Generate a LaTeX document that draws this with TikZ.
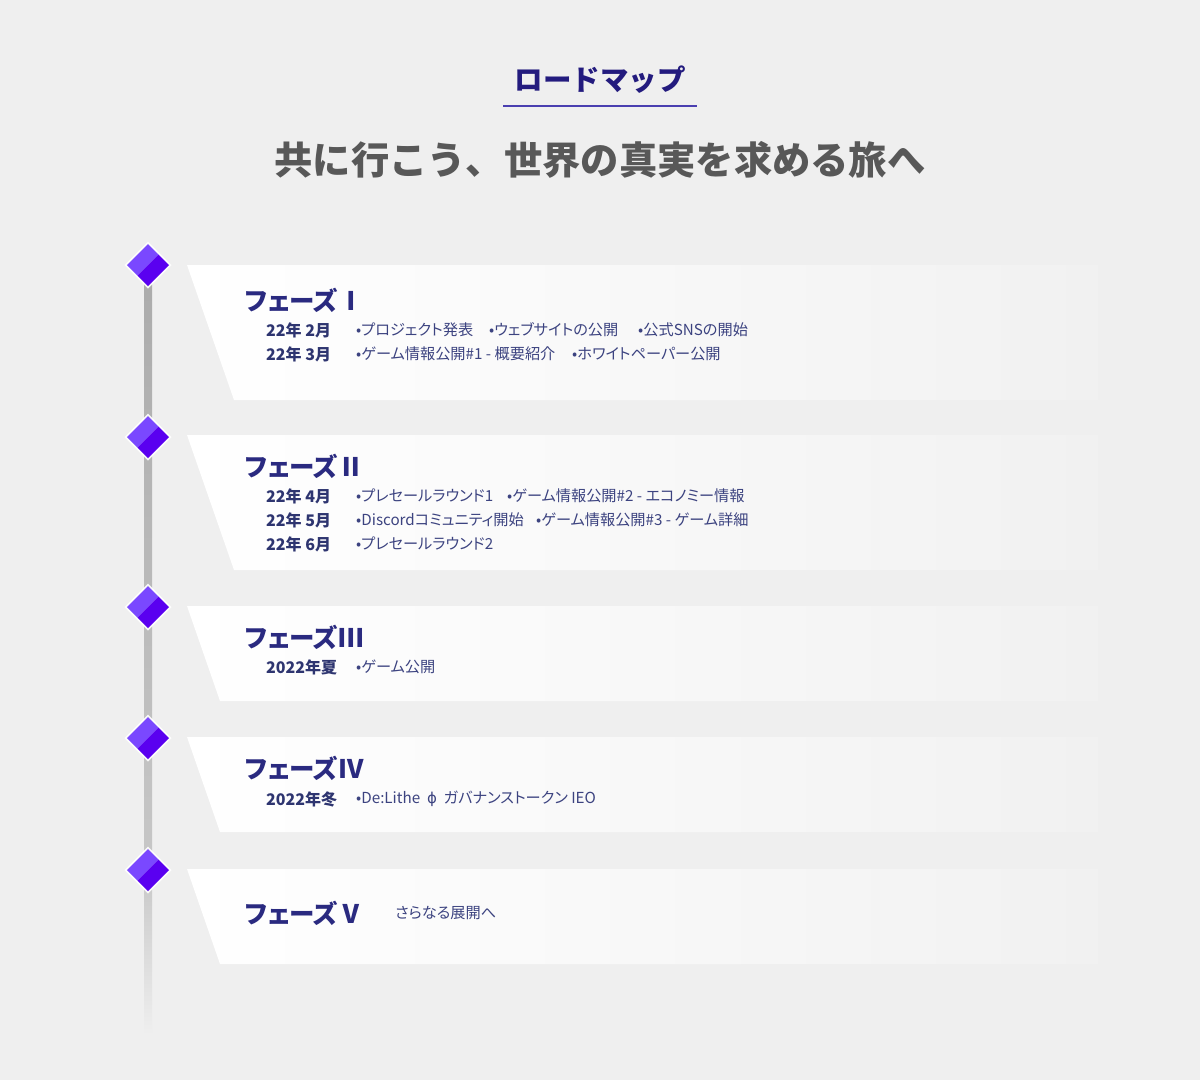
\documentclass[tikz,border=0pt]{standalone}
\usepackage{fontspec}
\setmainfont{Noto Sans CJK JP}
\newfontfamily\pf{Noto Sans CJK JP}[RawFeature=+palt]
\newfontfamily\dv{DejaVu Sans}
\definecolor{bg}{HTML}{EFEFEF}
\definecolor{navy}{HTML}{231B7E}
\definecolor{uline}{HTML}{4A3FB0}
\definecolor{subgray}{HTML}{585858}
\definecolor{phasec}{HTML}{2A2A80}
\definecolor{datec}{HTML}{2E3570}
\definecolor{itemc}{HTML}{3C4380}
\definecolor{cardR}{HTML}{F1F1F1}
\definecolor{gemL}{HTML}{7A48FF}
\definecolor{gemD}{HTML}{5A00F0}
\tikzset{
  card/.style={shading=axis,left color=white,right color=cardR},
  phasetitle/.style={anchor=west,inner sep=0,font=\pf\bfseries\fontsize{25.5}{26}\selectfont,text=phasec},
  datetext/.style={anchor=west,inner sep=0,font=\pf\bfseries\fontsize{16}{16}\selectfont,text=datec},
  itemtext/.style={anchor=west,inner sep=0,font=\pf\fontsize{15.2}{15}\selectfont,text=itemc},
}
\newcommand\gem[3]{%
  \begin{scope}[shift={(#2,#3)}]
    \coordinate (#1) at (0,0);
    \fill[white,opacity=0.9] (-23.5,0) -- (0,-23.5) -- (23.5,0) -- (0,23.5) -- cycle;
    \fill[gemL] (-21,0) -- (0,-21) -- (10.5,-10.5) -- (-10.5,10.5) -- cycle;
    \fill[gemD] (10.5,-10.5) -- (21,0) -- (0,21) -- (-10.5,10.5) -- cycle;
  \end{scope}}
\newcommand\cardshape[3]{% top, bottom, bottom-left x
  \path[card] (187,#1) -- (1098,#1) -- (1098,#2) -- (#3,#2) -- cycle;}
\begin{document}
\begin{tikzpicture}[x=1pt,y=-1pt]
\useasboundingbox (0,0) rectangle (1200,1080);
\fill[bg] (0,0) rectangle (1200,1080);

% header
\node[font=\bfseries\fontsize{28.5}{28}\selectfont,text=navy,inner sep=0] (title) at (600,80) {ロードマップ};
\coordinate (ulA) at (503,106);
\coordinate (ulB) at (697,106);
\draw[uline,line width=1.8pt] (ulA) -- (ulB);
\node[font=\bfseries\fontsize{38.3}{38}\selectfont,text=subgray,inner sep=0] (subtitle) at (600,160) {共に行こう、世界の真実を求める旅へ};

% cards
\cardshape{265}{400}{234}
\cardshape{435}{570}{234}
\cardshape{606}{701}{220}
\cardshape{737}{832}{220}
\cardshape{869}{964}{220}

% timeline
\shade[top color=black!33,bottom color=black!22] (144,265) rectangle (152,870);
\shade[top color=black!22,bottom color=bg] (144,870) rectangle (152,1035);

\gem{g1}{148}{265}
\gem{g2}{148}{437}
\gem{g3}{148}{607}
\gem{g4}{148}{738}
\gem{g5}{148}{870}

% Phase I
\node[phasetitle] (p1) at (245,300) {フェーズⅠ};
\node[datetext] (d11) at (266,330) {22年 2月};
\node[itemtext] (i111) at (356,330) {•プロジェクト発表};
\node[itemtext] (i112) at (489,330) {•ウェブサイトの公開};
\node[itemtext] (i113) at (638,330) {•公式SNSの開始};
\node[datetext] (d12) at (266,354) {22年 3月};
\node[itemtext] (i121) at (356,354) {•ゲーム情報公開\#1 - 概要紹介};
\node[itemtext] (i122) at (572,354) {•ホワイトペーパー公開};

% Phase II
\node[phasetitle] (p2) at (245,466) {フェーズⅡ};
\node[datetext] (d21) at (266,496) {22年 4月};
\node[itemtext] (i211) at (356,496) {•プレセールラウンド1};
\node[itemtext] (i212) at (507,496) {•ゲーム情報公開\#2 - エコノミー情報};
\node[datetext] (d22) at (266,520) {22年 5月};
\node[itemtext] (i221) at (356,520) {•Discordコミュニティ開始};
\node[itemtext] (i222) at (536,520) {•ゲーム情報公開\#3 - ゲーム詳細};
\node[datetext] (d23) at (266,544) {22年 6月};
\node[itemtext] (i231) at (356,544) {•プレセールラウンド2};

% Phase III
\node[phasetitle] (p3) at (245,637) {フェーズⅢ};
\node[datetext] (d31) at (266,667) {2022年夏};
\node[itemtext] (i311) at (356,667) {•ゲーム公開};

% Phase IV
\node[phasetitle] (p4) at (245,768) {フェーズⅣ};
\node[datetext] (d41) at (266,799) {2022年冬};
\node[itemtext] (i411) at (356,799) {•De:Lithe\ \ {\dv\fontsize{15}{15}\selectfont ϕ}\ \ ガバナンストークン IEO};

% Phase V
\node[phasetitle] (p5) at (245,913) {フェーズⅤ};
\node[itemtext] (i511) at (395,913) {さらなる展開へ};
\end{tikzpicture}
\end{document}
